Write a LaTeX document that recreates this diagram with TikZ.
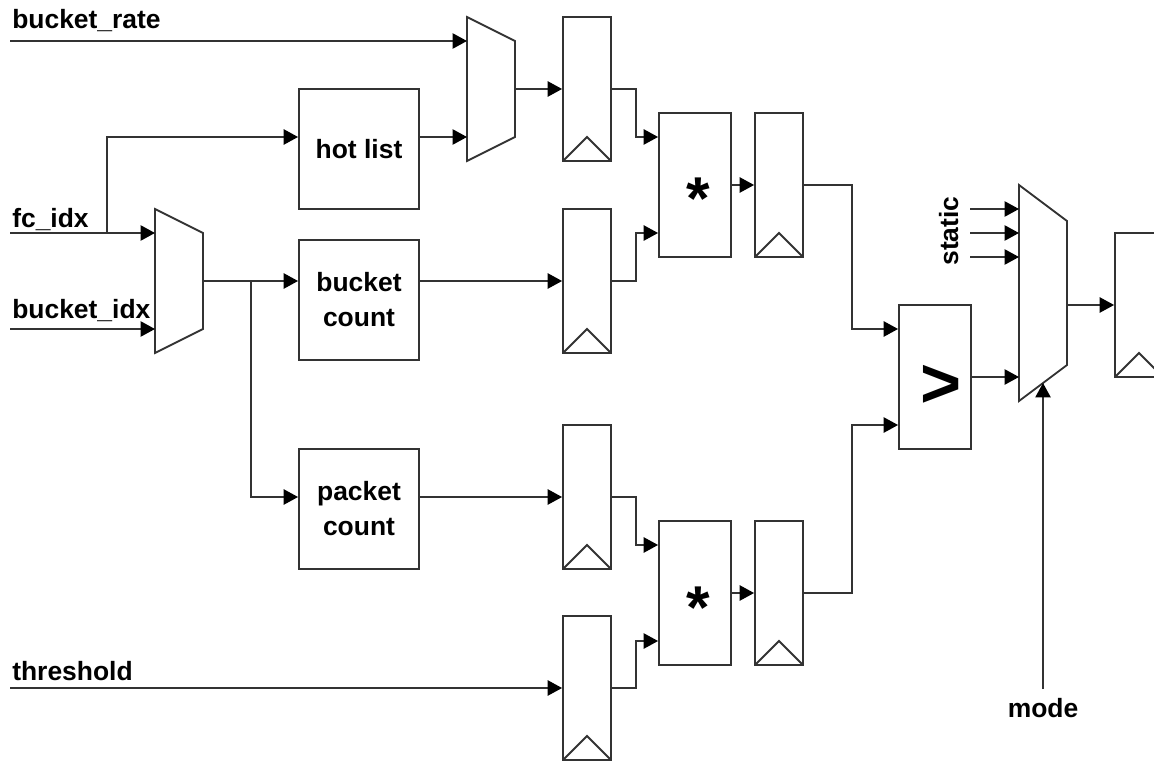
\documentclass[tikz,border=0pt]{standalone}
\usepackage{fontspec}
\setmainfont{Liberation Sans}
\usetikzlibrary{arrows.meta,positioning}

\tikzset{
	wire/.style={line width=1.3pt,draw=black!80},
	sig/.style={wire,-{Triangle[length=0.36cm,width=0.38cm,color=black]}},
	blk/.style={wire,minimum width=3cm,minimum height=3cm,inner sep=0pt,align=center,
		font=\fontsize{18.8}{24.9}\selectfont\bfseries},
	reg/.style={wire,minimum width=1.2cm,minimum height=3.6cm,inner sep=0pt,
		path picture={\draw[wire] (path picture bounding box.south west) -- ++(0.6cm,0.6cm) -- ++(0.6cm,-0.6cm);}},
	op/.style={wire,minimum width=1.8cm,minimum height=3.6cm,inner sep=0pt},
	lbl/.style={font=\fontsize{18.8}{22}\selectfont\bfseries,anchor=base west,inner sep=0pt},
	sym/.style={font=\fontsize{43}{43}\selectfont\bfseries,anchor=base,inner sep=0pt},
}

\begin{document}
\begin{tikzpicture}[x=0.025cm,y=-0.025cm]
	\useasboundingbox (0,0) rectangle (1154,761);
	\fill[white] (0,0) rectangle (1154,761);
	\clip (0,0) rectangle (1154,761);

	% input labels
	\node[lbl] (tRate) at (12,29) {bucket\_rate};
	\node[lbl] (tFc) at (12,227) {fc\_idx};
	\node[lbl] (tIdx) at (12,318) {bucket\_idx};
	\node[lbl] (tThr) at (12,680) {threshold};
	\node[lbl,anchor=base] (tMode) at (1043,717) {mode};
	\node[lbl,anchor=base,rotate=90] (tStatic) at (958,231) {static};
	\coordinate (rateIn) at (10,41);
	\coordinate (fcIn) at (10,233);
	\coordinate (idxIn) at (10,329);
	\coordinate (thrIn) at (10,688);
	\coordinate (modeIn) at (1043,689);
	\coordinate (fcJ) at (107,233);

	% muxes
	\draw[wire] (155,209) -- (203,233) -- (203,329) -- (155,353) -- cycle;
	\coordinate (m0a) at (155,233);
	\coordinate (m0b) at (155,329);
	\coordinate (m0o) at (203,281);
	\coordinate (m0J) at (251,281);
	\draw[wire] (467,17) -- (515,41) -- (515,137) -- (467,161) -- cycle;
	\coordinate (m1a) at (467,41);
	\coordinate (m1b) at (467,137);
	\coordinate (m1o) at (515,89);
	\draw[wire] (1019,185) -- (1067,221) -- (1067,365) -- (1019,401) -- cycle;
	\coordinate (m2d) at (1019,377);
	\coordinate (m2o) at (1067,305);
	\coordinate (m2sel) at (1043,383);

	% blocks
	\node[blk] (hot) at (359,149) {hot list};
	\node[blk] (bcnt) at (359,300) {bucket\\count};
	\node[blk] (pcnt) at (359,509) {packet\\count};

	% registers
	\node[reg] (rA) at (587,89) {};
	\node[reg] (rB) at (587,281) {};
	\node[reg] (rC) at (587,497) {};
	\node[reg] (rD) at (587,688) {};
	\node[reg] (rE) at (779,185) {};
	\node[reg] (rF) at (779,593) {};
	\node[reg] (rG) at (1139,305) {};

	% operators
	\node[op] (mulA) at (695,185) {};
	\node[op] (mulB) at (695,593) {};
	\node[op] (cmp) at (935,377) {};
	\node[sym] (starA) at (698,220) {*};
	\node[sym] (starB) at (698,628) {*};
	\node[sym,font=\fontsize{50}{50}\selectfont\bfseries] (gt) at (941,407) {>};

	% wiring
	\draw[sig] (rateIn) -- (m1a);
	\draw[sig] (fcIn) -- (m0a);
	\draw[sig] (idxIn) -- (m0b);
	\draw[sig] (thrIn) -- (rD.west);
	\draw[sig] (fcJ) |- (hot.west |- m1b);
	\draw[sig] (hot.east |- m1b) -- (m1b);
	\draw[sig] (m1o) -- (rA.west);
	\draw[sig] (m0o) -- (m0o -| bcnt.west);
	\draw[sig] (m0J) |- (pcnt.west |- rC);
	\draw[sig] (bcnt.east |- rB) -- (rB.west);
	\draw[sig] (pcnt.east |- rC) -- (rC.west);
	\draw[sig] (rA.east) -- ++(24,0) |- ([yshift=1.2cm]mulA.west);
	\draw[sig] (rB.east) -- ++(24,0) |- ([yshift=-1.2cm]mulA.west);
	\draw[sig] (rC.east) -- ++(24,0) |- ([yshift=1.2cm]mulB.west);
	\draw[sig] (rD.east) -- ++(24,0) |- ([yshift=-1.2cm]mulB.west);
	\draw[sig] (mulA.east) -- (rE.west);
	\draw[sig] (mulB.east) -- (rF.west);
	\draw[sig] (rE.east) -- ++(48,0) |- ([yshift=1.2cm]cmp.west);
	\draw[sig] (rF.east) -- ++(48,0) |- ([yshift=-1.2cm]cmp.west);
	\draw[sig] (cmp.east |- m2d) -- (m2d);
	\foreach \i/\y in {1/209,2/233,3/257}{
		\coordinate (st\i) at (970,\y);
		\coordinate (m2s\i) at (1019,\y);
		\draw[sig] (st\i) -- (m2s\i);
	}
	\draw[sig] (modeIn) -- (m2sel);
	\draw[sig] (m2o) -- (rG.west);
\end{tikzpicture}
\end{document}
